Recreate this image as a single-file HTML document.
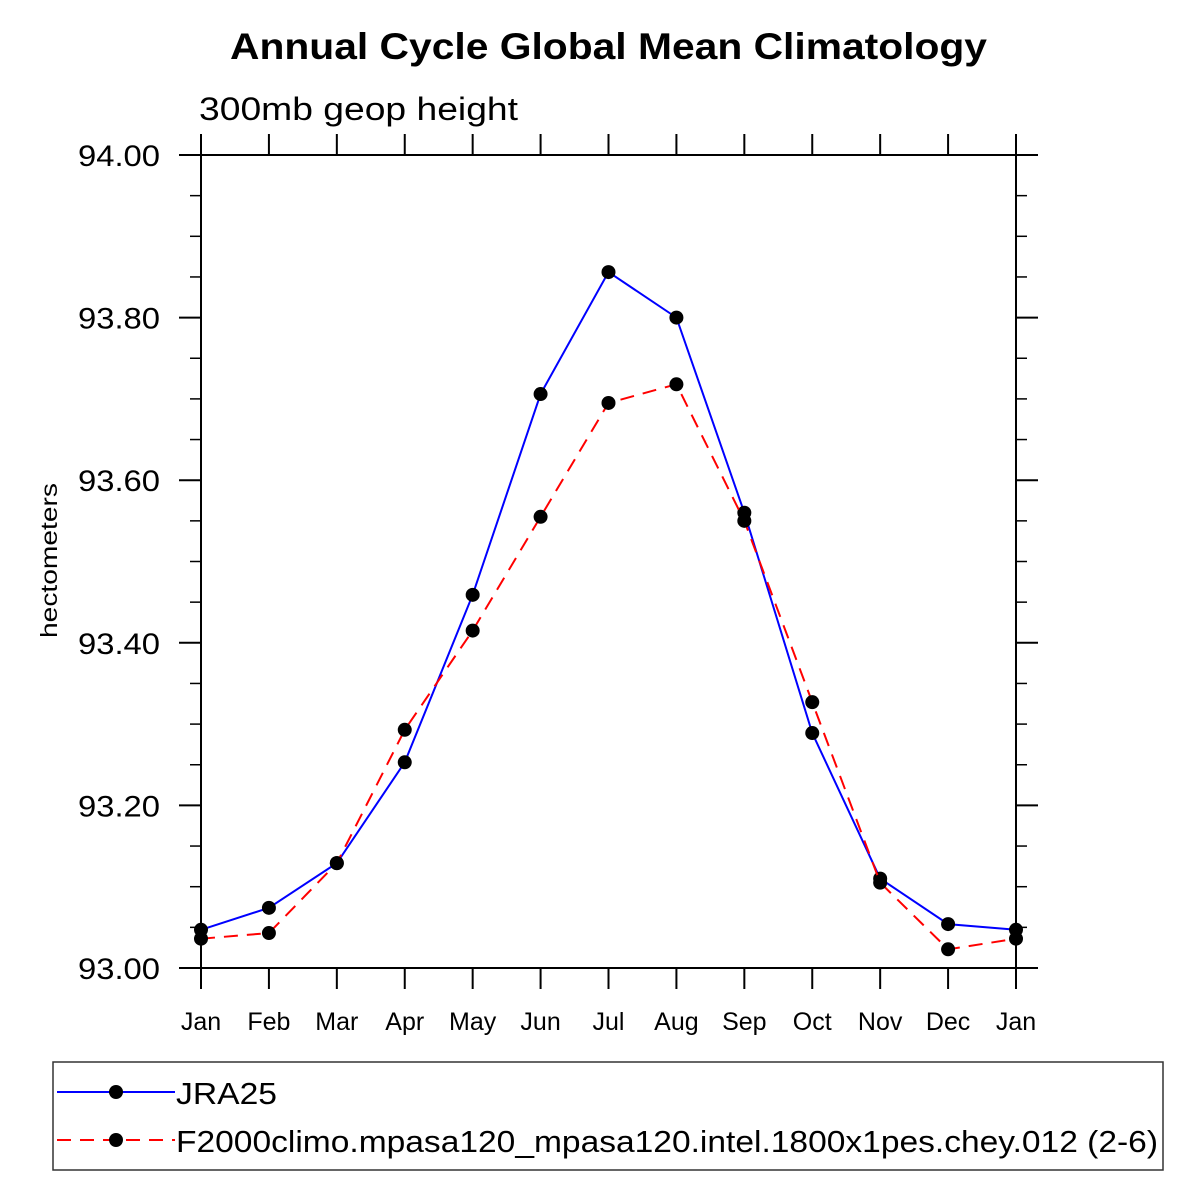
<!DOCTYPE html>
<html><head><meta charset="utf-8"><style>
body{margin:0;background:#fff}
svg{display:block;font-family:"Liberation Sans",sans-serif}
</style></head><body>
<svg id="chart" width="1200" height="1200" viewBox="0 0 1200 1200">
<text x="230" y="59" font-size="37" font-weight="bold" textLength="757" lengthAdjust="spacingAndGlyphs">Annual Cycle Global Mean Climatology</text>
<text x="199" y="120" font-size="32" textLength="319" lengthAdjust="spacingAndGlyphs">300mb geop height</text>
<text transform="translate(57,638) rotate(-90)" font-size="23" textLength="155" lengthAdjust="spacingAndGlyphs">hectometers</text>
<g id="axes"></g>
<g id="series"></g>
<rect x="53" y="1062" width="1110" height="108" fill="none" stroke="#333" stroke-width="1.5"/>
<g>
<line x1="57" y1="1092" x2="175" y2="1092" stroke="#00f" stroke-width="2"/>
<circle cx="116" cy="1092" r="7"/>
<text x="176" y="1104" font-size="31" textLength="101" lengthAdjust="spacingAndGlyphs">JRA25</text>
</g>
<g>
<line x1="57" y1="1140" x2="175" y2="1140" stroke="#f00" stroke-width="2" stroke-dasharray="14,9"/>
<circle cx="116" cy="1140" r="7"/>
<text x="176" y="1152" font-size="31" textLength="982" lengthAdjust="spacingAndGlyphs">F2000climo.mpasa120_mpasa120.intel.1800x1pes.chey.012 (2-6)</text>
</g>
</svg>
<script>
const months = ["Jan","Feb","Mar","Apr","May","Jun","Jul","Aug","Sep","Oct","Nov","Dec","Jan"];
const jra25 = [93.047,93.074,93.129,93.253,93.459,93.706,93.856,93.800,93.560,93.289,93.110,93.054,93.047];
const f2000 = [93.036,93.043,93.129,93.293,93.415,93.555,93.695,93.718,93.550,93.327,93.105,93.023,93.036];
const yTicks = [93.0,93.2,93.4,93.6,93.8,94.0];
const yTickLabels = ["93.00","93.20","93.40","93.60","93.80","94.00"];
const NS="http://www.w3.org/2000/svg";
const X0=201,X1=1016,Y0=968,Y1=155,YMIN=93,YMAX=94;
const xs=i=>X0+(X1-X0)*i/(months.length-1);
const ys=v=>Y0-(v-YMIN)/(YMAX-YMIN)*(Y0-Y1);
function mk(tag,attrs,parent){const e=document.createElementNS(NS,tag);for(const k in attrs)e.setAttribute(k,attrs[k]);parent.appendChild(e);return e;}
const ax=document.getElementById('axes');
const frame=mk('rect',{x:X0,y:Y1,width:X1-X0,height:Y0-Y1,fill:'none',stroke:'#000','stroke-width':2},ax);


for(let v=YMIN;v<=YMAX+1e-9;v+=0.05){
  const y=ys(v);const major=Math.abs((v-YMIN)/0.2-Math.round((v-YMIN)/0.2))<1e-6;
  const L=major?22:11;
  mk('line',{x1:X0-L,y1:y,x2:X0,y2:y,stroke:'#000','stroke-width':major?2:1.5},ax);
  mk('line',{x1:X1,y1:y,x2:X1+L,y2:y,stroke:'#000','stroke-width':major?2:1.5},ax);
}
yTicks.forEach((v,i)=>{
  const t=mk('text',{x:78,y:ys(v)+11,'font-size':30,textLength:82,lengthAdjust:'spacingAndGlyphs'},ax);
  t.textContent=yTickLabels[i];
  
  
});
months.forEach((m,i)=>{
  const x=xs(i);
  mk('line',{x1:x,y1:Y1-21,x2:x,y2:Y1,stroke:'#000','stroke-width':2},ax);
  mk('line',{x1:x,y1:Y0,x2:x,y2:Y0+21,stroke:'#000','stroke-width':2},ax);
  const t=mk('text',{x:x,y:1030,'text-anchor':'middle','font-size':25},ax);
  t.textContent=m;
  
  
});
const sg=document.getElementById('series');
function draw(vals,color,dash,name){
  const g=mk('g',{},sg);
  
  
  const pts=vals.map((v,i)=>xs(i)+','+ys(v)).join(' ');
  const a={points:pts,fill:'none',stroke:color,'stroke-width':2};
  if(dash)a['stroke-dasharray']=dash;
  mk('polyline',a,g);
  vals.forEach((v,i)=>{
    const c=mk('circle',{cx:xs(i),cy:ys(v),r:7,fill:'#000'},g);
    
    
  });
}
draw(jra25,'#00f',null,'series-jra25');
draw(f2000,'#f00','14,9','series-f2000');
</script>
</body></html>
